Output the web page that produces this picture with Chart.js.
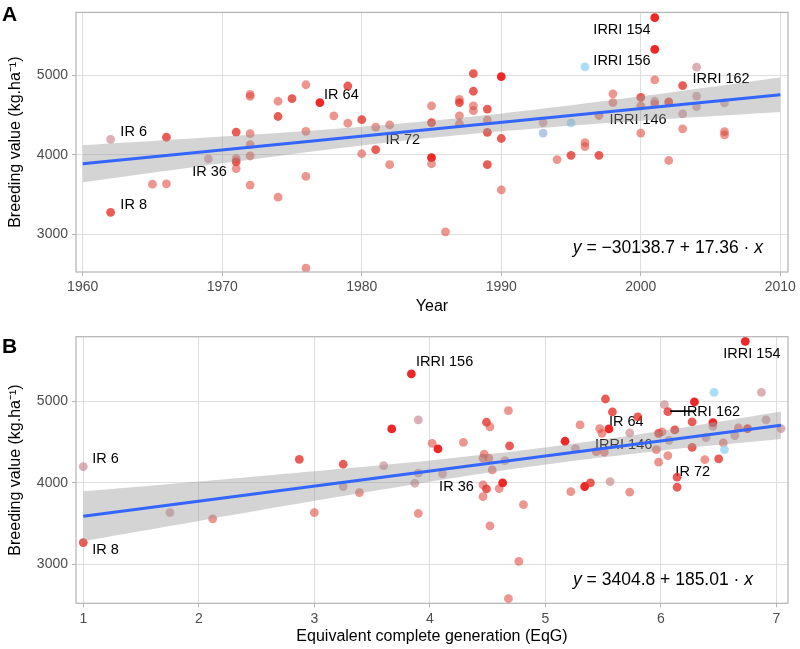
<!DOCTYPE html>
<html>
<head>
<meta charset="utf-8">
<script src="https://cdn.jsdelivr.net/npm/chart.js@4.4.1/dist/chart.umd.min.js"></script>
<style>
  html, body { margin: 0; padding: 0; background: #fff; }
  #wrap { position: relative; width: 800px; height: 649px; }
  canvas { position: absolute; left: 0; }
</style>
</head>
<body>
<div id="wrap">
  <canvas id="chartA" width="800" height="320" style="top:0"></canvas>
  <canvas id="chartB" width="800" height="329" style="top:320px"></canvas>
</div>
<script>
// --- panel A : breeding value vs year of release ---
const YEAR_A = [1962,1962,1965,1966,1966,1969,1971,1971,1971,1971,1972,1972,1972,1972,1972,1972,
  1974,1974,1974,1975,1976,1976,1976,1976,1977,1978,1979,1979,1980,1980,1981,1981,1982,1982,
  1985,1985,1985,1985,1986,1987,1987,1987,1987,1988,1988,1988,1988,1989,1989,1989,1989,1990,1990,1990,
  1993,1993,1994,1995,1995,1996,1996,1996,1997,1997,1998,1998,2000,2000,2000,
  2001,2001,2001,2001,2001,2002,2002,2003,2003,2003,2004,2004,2004,2006,2006,2006];
const BV_A = [4192,3274,3629,3633,4220,3947,4285,3951,3910,3825,4759,4734,4265,4126,3984,3617,
  4673,4481,3465,4706,4881,4294,3727,2572,4657,4490,4865,4396,4441,4012,4347,4065,4375,3874,
  4616,4404,3963,3886,3029,4698,4657,4490,4388,5020,4799,4616,4555,4575,4437,4282,3874,4983,4204,3556,
  4273,4404,3939,4400,3992,5106,4151,4102,4494,3992,4767,4657,4722,4616,4273,
  5726,5326,4942,4673,4640,4665,3927,4869,4514,4326,5102,4738,4604,4652,4290,4249];
const GRP_A = ['p','m','l','l','m','p','m','l','m','l','l','l','l','l','l','l',
  'l','m','l','m','l','l','l','l','r','l','m','l','m','l','l','m','l','l',
  'l','m','r','l','l','l','m','l','l','m','m','l','l','m','l','m','m','r','m','l',
  'g','p','l','b','m','b','l','l','l','m','l','l','m','l','l',
  'r','r','l','p','l','m','l','m','p','l','p','p','p','p','l','l'];

const FIT_X_A = [1960, 2010];
const FIT_Y_A = [3886.9, 4754.9];
const BAND_X_A = [1960,1965,1970,1975,1980,1985,1990,1995,2000,2005,2010];
const BAND_HI_A = [4122,4174,4229,4287,4353,4429,4520,4623,4735,4853,4973];
const BAND_LO_A = [3652,3773,3892,4007,4115,4213,4296,4366,4427,4483,4537];

const NAMES_A = ['IR 6','IR 8','IR 36','IR 64','IR 72','IRRI 154','IRRI 156','IRRI 162','IRRI 146'];
const NAME_X_A = [1962.7,1962.7,1967.85,1977.3,1981.7,1996.6,1996.6,2003.7,1997.75];
const NAME_Y_A = [4285,3364,3780,4747,4184,5570,5175,4955,4440];

const X_TICKS_A = [1960,1970,1980,1990,2000,2010];

// --- panel B : breeding value vs equivalent complete generations ---
const EQG_B = [1.0,1.0,1.75,2.12,2.87,3.0,3.25,3.25,3.39,3.60,3.67,3.84,3.87,3.90,3.90,3.90,
  4.02,4.07,4.11,4.29,4.46,4.46,4.46,4.47,4.49,4.49,4.51,4.52,4.52,4.54,4.60,4.63,4.65,4.68,4.68,4.69,4.77,4.81,
  5.17,5.22,5.26,5.30,5.34,5.39,5.44,5.47,5.49,5.52,5.51,5.55,5.56,5.58,5.73,5.73,5.80,
  5.96,5.98,5.98,6.01,6.03,6.06,6.06,6.07,6.12,6.14,6.14,6.27,6.29,6.27,6.38,6.39,
  6.45,6.45,6.46,6.50,6.54,6.55,6.64,6.67,6.73,6.75,6.87,6.91,7.04];
const BV_B = [4200,3267,3636,3559,4289,3636,4228,3955,3881,4212,4661,5335,3995,4771,4118,3624,
  4485,4416,4110,4497,3975,3832,4302,4351,4743,3926,4302,4686,3473,4159,3930,4000,4273,4885,2579,4453,3036,3734,
  4510,3893,4420,4710,3955,4000,4383,4665,4607,5028,4375,4661,4016,4869,4612,3885,4808,
  4408,4253,4607,4624,4959,4873,4334,4522,4649,4069,3946,4747,4992,4436,4285,4555,
  4738,4693,5110,4294,4490,4408,4579,4673,5734,4665,5110,4771,4665];
const GRP_B = ['p','m','p','l','m','l','m','p','l','p','r','r','p','p','p','l',
  'l','r','p','l','l','l','l','l','m','m','l','l','l','l','l','r','p','l','l','m','l','l',
  'r','l','p','l','r','m','l','l','l','m','l','r','p','m','p','l','m',
  'l','l','m','l','p','m','l','p','m','m','m','m','r','m','l','p',
  'r','p','b','m','l','b','p','l','r','m','p','p','p'];

const FIT_X_B = [1, 7.04];
const FIT_Y_B = [3589.8, 4707.3];
const BAND_X_B = [1,1.5,2,2.5,3,3.5,4,4.5,5,5.5,6,6.5,7.04];
const BAND_HI_B = [3896,3956,4017,4078,4141,4206,4275,4350,4434,4530,4635,4749,4876];
const BAND_LO_B = [3284,3409,3533,3657,3779,3898,4014,4124,4225,4315,4395,4466,4538];

const NAMES_B = ['IR 6','IR 8','IRRI 156','IR 36','IRRI 154','IR 64','IRRI 146','IRRI 162','IR 72'];
const NAME_X_B = [1.078,1.078,3.88,4.08,6.54,5.55,5.43,6.19,6.125];
const NAME_Y_B = [4294,3175,5477,3951,5584,4747,4469,4873,4130];
const LEADER_X_B = [6.08, 6.30];
const LEADER_Y_B = [4880, 4880];

const X_TICKS_B = [1,2,3,4,5,6,7];
const Y_TICKS = [3000,4000,5000];

const FONT = '"Liberation Sans", Arial, Helvetica, sans-serif';
Chart.defaults.font.family = FONT;

const TONES = {
  r: 'rgba(236,28,26,0.95)',
  m: 'rgba(228,48,38,0.78)',
  l: 'rgba(224,72,62,0.58)',
  p: 'rgba(190,110,118,0.55)',
  b: 'rgba(150,212,246,0.8)',
  g: 'rgba(150,175,222,0.7)'
};

const zip = (xs, ys) => xs.map((x, i) => ({ x, y: ys[i] }));

const panelDecor = {
  id: 'panelDecor',
  beforeDatasetsDraw(chart, args, o) {
    const { ctx, scales: { x, y } } = chart;
    ctx.save();
    ctx.font = '14.5px ' + FONT;
    ctx.fillStyle = '#000';
    ctx.textBaseline = 'middle';
    ctx.textAlign = 'left';
    o.names.forEach((n, i) => {
      ctx.fillText(n, x.getPixelForValue(o.nx[i]), y.getPixelForValue(o.ny[i]));
    });
    ctx.restore();
  },
  afterDatasetsDraw(chart, args, o) {
    const { ctx, chartArea: a } = chart;
    ctx.save();
    // equation, right aligned
    const parts = [['y', 'italic '], [o.eq, ''], ['x', 'italic ']];
    ctx.textBaseline = 'middle';
    let w = 0;
    parts.forEach(p => { ctx.font = p[1] + '17.5px ' + FONT; w += ctx.measureText(p[0]).width; });
    let px = a.right - o.eqRight - w;
    const py = a.bottom - o.eqBottom;
    ctx.fillStyle = '#000';
    parts.forEach(p => {
      ctx.font = p[1] + '17.5px ' + FONT;
      ctx.fillText(p[0], px, py);
      px += ctx.measureText(p[0]).width;
    });
    // panel border
    ctx.strokeStyle = '#b3b3b3';
    ctx.lineWidth = 1.2;
    ctx.strokeRect(a.left, a.top, a.width, a.height);
    // panel letter
    ctx.font = 'bold 21px ' + FONT;
    ctx.textBaseline = 'top';
    ctx.fillText(o.letter, 2, o.letterY);
    ctx.restore();
  }
};

function makeScales(xMin, xMax, xTicks, xTitle, xHeight, titleBottom) {
  const grid = { color: '#dedede', lineWidth: 1, tickLength: 4, tickColor: '#b3b3b3' };
  return {
    x: {
      type: 'linear', min: xMin, max: xMax,
      afterBuildTicks: s => { s.ticks = xTicks.map(v => ({ value: v })); },
      afterFit: s => { s.height = xHeight; },
      grid,
      border: { display: false },
      ticks: { color: '#4d4d4d', font: { size: 14 }, padding: 3, maxRotation: 0, autoSkip: false, callback: v => String(v) },
      title: { display: true, text: xTitle, color: '#000', font: { size: 16 }, padding: { top: 0, bottom: titleBottom } }
    },
    y: {
      type: 'linear', min: 2523, max: 5792,
      afterBuildTicks: s => { s.ticks = Y_TICKS.map(v => ({ value: v })); },
      afterFit: s => { s.width = 76; },
      grid,
      border: { display: false },
      ticks: { color: '#4d4d4d', font: { size: 14 }, padding: 4, callback: v => String(v) },
      title: { display: true, text: 'Breeding value (kg.ha\u207B\u00B9)', color: '#000', font: { size: 16 }, padding: { top: 6, bottom: 0 } }
    }
  };
}

function makeDatasets(fitX, fitY, bx, bhi, blo, px, py, grp, extra) {
  const ds = [
    { type: 'line', data: zip(fitX, fitY), borderColor: '#3366ff', borderWidth: 3, pointRadius: 0, fill: false, showLine: true },
    { type: 'line', data: zip(bx, bhi), borderWidth: 0, borderColor: 'rgba(0,0,0,0)', pointRadius: 0, fill: '+1', backgroundColor: 'rgba(153,153,153,0.42)', showLine: true, tension: 0.3 },
    { type: 'line', data: zip(bx, blo), borderWidth: 0, borderColor: 'rgba(0,0,0,0)', pointRadius: 0, fill: false, showLine: true, tension: 0.3 },
    { type: 'scatter', data: zip(px, py), pointRadius: 4.4, pointBorderWidth: 0, pointBackgroundColor: grp.map(g => TONES[g]), pointBorderColor: 'rgba(0,0,0,0)' }
  ];
  if (extra) ds.unshift(extra);
  return ds;
}

const baseOpts = {
  responsive: false,
  animation: false,
  devicePixelRatio: 1,
  plugins: { legend: { display: false }, tooltip: { enabled: false } }
};

new Chart(document.getElementById('chartA'), {
  type: 'scatter',
  data: { datasets: makeDatasets(FIT_X_A, FIT_Y_A, BAND_X_A, BAND_HI_A, BAND_LO_A, YEAR_A, BV_A, GRP_A) },
  options: {
    ...baseOpts,
    layout: { padding: { left: 0, top: 5, right: 12, bottom: 0 } },
    scales: makeScales(1959.52, 2010.55, X_TICKS_A, 'Year', 48, 4),
    plugins: {
      ...baseOpts.plugins,
      panelDecor: { names: NAMES_A, nx: NAME_X_A, ny: NAME_Y_A, eq: ' = \u221230138.7 + 17.36 \u00B7 ', eqRight: 25, eqBottom: 24, letter: 'A', letterY: 5 }
    }
  },
  plugins: [panelDecor]
});

new Chart(document.getElementById('chartB'), {
  type: 'scatter',
  data: {
    datasets: makeDatasets(FIT_X_B, FIT_Y_B, BAND_X_B, BAND_HI_B, BAND_LO_B, EQG_B, BV_B, GRP_B,
      { type: 'line', data: zip(LEADER_X_B, LEADER_Y_B), borderColor: '#000', borderWidth: 1.6, pointRadius: 0, fill: false, showLine: true })
  },
  options: {
    ...baseOpts,
    layout: { padding: { left: 0, top: 16.7, right: 12, bottom: 0 } },
    scales: makeScales(0.937, 7.10, X_TICKS_B, 'Equivalent complete generation (EqG)', 45.7, 3),
    plugins: {
      ...baseOpts.plugins,
      panelDecor: { names: NAMES_B, nx: NAME_X_B, ny: NAME_Y_B, eq: ' = 3404.8 + 185.01 \u00B7 ', eqRight: 35, eqBottom: 23, letter: 'B', letterY: 17 }
    }
  },
  plugins: [panelDecor]
});
</script>
</body>
</html>
